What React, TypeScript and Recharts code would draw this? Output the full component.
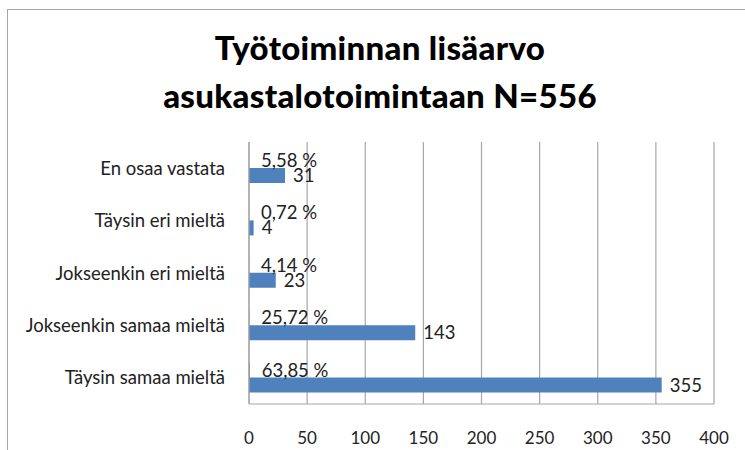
import React from 'react'
import { BarChart, Bar, XAxis, YAxis, CartesianGrid, LabelList } from 'recharts'

const categories = [
  'Täysin samaa mieltä',
  'Jokseenkin samaa mieltä',
  'Jokseenkin eri mieltä',
  'Täysin eri mieltä',
  'En osaa vastata',
]
const counts = [355, 143, 23, 4, 31]
const shares = [0.6385, 0.2572, 0.0414, 0.0072, 0.0558]
const xTicks = [0, 50, 100, 150, 200, 250, 300, 350, 400]

const data = categories.map((name, i) => ({ name, count: counts[i], share: shares[i] }))

const font = 'Lato, "Open Sans", sans-serif'

const pct = (v: any) => (Number(v) * 100).toFixed(2).replace('.', ',') + ' %'

export default function App() {
  return (
    <div style={{ position: 'absolute', left: 0, top: 0, width: 745, height: 450, overflow: 'hidden', background: '#fff', fontFamily: font }}>
      <div style={{ position: 'absolute', left: 7, top: 9, width: 800, height: 500, border: '1.5px solid #a6a6a6' }} />
      <div style={{ position: 'absolute', left: 0, top: 23, width: 760, textAlign: 'center', fontWeight: 900, fontSize: 33, lineHeight: '48px', color: '#000', letterSpacing: 0.3 }}>
        Työtoiminnan lisäarvo
        <br />
        asukastalotoimintaan N=556
      </div>
      <div style={{ position: 'absolute', left: 0, top: 0 }}>
        <BarChart
          width={745}
          height={450}
          data={data}
          layout="vertical"
          margin={{ top: 142, right: 31, bottom: 16, left: 9 }}
          barCategoryGap="21%"
          barGap={0}
        >
          <CartesianGrid horizontal={false} stroke="#a6a6a6" strokeWidth={1.2} />
          <XAxis
            type="number"
            domain={[0, 400]}
            ticks={xTicks}
            height={30}
            axisLine={{ stroke: '#a6a6a6', strokeWidth: 1.2 }}
            tickLine={false}
            tickMargin={22}
            tick={{ fill: '#222', fontSize: 17, fontFamily: font }}
          />
          <YAxis
            type="category"
            dataKey="name"
            reversed
            width={240}
            axisLine={{ stroke: '#a6a6a6', strokeWidth: 1.2 }}
            tickLine={false}
            tickMargin={18}
            tick={{ fill: '#222', fontSize: 18.5, fontFamily: font }}
          />
          <Bar dataKey="share" fill="#c0504d" isAnimationActive={false}>
            <LabelList dataKey="share" position="right" offset={12} formatter={pct} style={{ fill: '#222', fontSize: 18.5, fontFamily: font }} />
          </Bar>
          <Bar dataKey="count" fill="#4f81bd" isAnimationActive={false}>
            <LabelList dataKey="count" position="right" offset={8} style={{ fill: '#222', fontSize: 18.5, fontFamily: font }} />
          </Bar>
        </BarChart>
      </div>
    </div>
  )
}
